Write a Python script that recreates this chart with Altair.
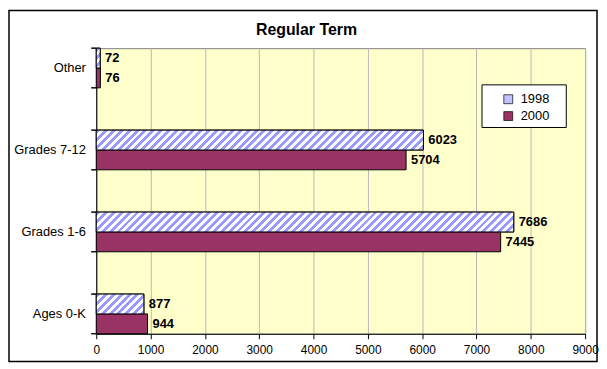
import altair as alt
import pandas as pd

categories = ["Other", "Grades 7-12", "Grades 1-6", "Ages 0-K"]
values_1998 = [72, 6023, 7686, 877]
values_2000 = [76, 5704, 7445, 944]
years = ["1998", "2000"]
x_ticks = [0, 1000, 2000, 3000, 4000, 5000, 6000, 7000, 8000, 9000]
title_text = "Regular Term"

PLOT_W, PLOT_H = 493, 288
X_MAX = 9000
BAR_H = 20
STRIPE_PERIOD = 8.0
STRIPE_BLUE = "#9999FF"
COL_2000 = "#993366"
FONT = "Liberation Sans"

rows = []
for c, a, b in zip(categories, values_1998, values_2000):
    rows.append({"cat": c, "year": years[0], "value": a})
    rows.append({"cat": c, "year": years[1], "value": b})
df = pd.DataFrame(rows)


def stripe_gradient(value):
    """Diagonal '/' stripes built as a hard-stop linear gradient for one bar."""
    w = max(value * PLOT_W / X_MAX, 0.5)
    h = BAR_H
    r = h / w
    k = (w + h) / (w * (1 + r * r))
    total = w + h
    stops = []
    pos = 0.0
    i = 0
    while pos < total:
        col = STRIPE_BLUE if i % 2 == 0 else "#FFFFFF"
        nxt = min(pos + STRIPE_PERIOD / 2, total)
        stops.append({"offset": pos / total, "color": col})
        stops.append({"offset": nxt / total, "color": col})
        pos = nxt
        i += 1
    return {"gradient": "linear", "x1": 0, "y1": 0, "x2": k, "y2": k * r, "stops": stops}


y_enc = alt.Y("cat:N", sort=categories,
              scale=alt.Scale(paddingInner=0.516, paddingOuter=0),
              axis=alt.Axis(title=None, ticks=False, labelFont=FONT, labelFontSize=13,
                            labelColor="black", labelPadding=11, domainColor="black",
                            grid=False))
x_enc = alt.X("value:Q",
              scale=alt.Scale(domain=[0, X_MAX], nice=False),
              axis=alt.Axis(title=None, values=x_ticks, format="d", labelFont=FONT,
                            labelFontSize=12, labelColor="black", tickSize=5,
                            tickColor="black", domainColor="black", labelPadding=6,
                            grid=True, gridColor="#B8B8B8", labelFlush=False))
yoff = alt.YOffset("year:N", sort=years, scale=alt.Scale(paddingInner=0, paddingOuter=0))

base = alt.Chart(df)

bars = base.mark_bar(stroke="black", strokeWidth=1, cornerRadius=0).encode(
    x=x_enc, y=y_enc, yOffset=yoff,
    fill=alt.Fill("year:N", sort=years,
                  scale=alt.Scale(domain=years, range=["#C2C2FF", COL_2000]),
                  legend=alt.Legend(title=None, orient="none", legendX=409, legendY=45,
                                    padding=0, symbolType="square", symbolSize=81,
                                    symbolStrokeColor="black", symbolStrokeWidth=0.7,
                                    labelFont=FONT, labelFontSize=13, labelColor="black",
                                    labelOffset=6, rowPadding=3)),
)

conds = [{"test": f"datum.cat === '{c}'", "value": stripe_gradient(v)}
         for c, v in zip(categories, values_1998)]
stripes = base.transform_filter(f"datum.year === '{years[0]}'").mark_bar(
    stroke="black", strokeWidth=1).encode(
    x="value:Q", y=alt.Y("cat:N", sort=categories), yOffset=yoff,
    fill=alt.value("#C2C2FF", condition=conds),
)

labels = base.mark_text(align="left", baseline="middle", dx=5, font=FONT,
                        fontSize=13, fontWeight="bold", color="black").encode(
    x="value:Q", y=alt.Y("cat:N", sort=categories), yOffset=yoff, text="value:Q")

ticks_top = base.mark_rule(color="black").encode(
    y=alt.Y("cat:N", sort=categories, bandPosition=0), x=alt.value(-5), x2=alt.value(0))
ticks_bot = base.mark_rule(color="black").encode(
    y=alt.Y("cat:N", sort=categories, bandPosition=1), x=alt.value(-5), x2=alt.value(0))

one = pd.DataFrame({"t": [title_text]})
frame = alt.Chart(one).mark_rect(
    fill=None, stroke="black", strokeWidth=1.5).encode(
    x=alt.value(-88), x2=alt.value(PLOT_W + 12), y=alt.value(-38), y2=alt.value(PLOT_H + 28))

legend_box = alt.Chart(one).mark_rect(
    fill="white", stroke="black", strokeWidth=1).encode(
    x=alt.value(389), x2=alt.value(474), y=alt.value(37), y2=alt.value(80))

title = alt.Chart(one).mark_text(
    font=FONT, fontSize=16, fontWeight="bold", color="black",
    align="center", baseline="middle").encode(
    text="t:N", x=alt.value(212), y=alt.value(-18))

chart = alt.layer(frame, bars, stripes, labels, ticks_top, ticks_bot, legend_box, title
).properties(
    width=PLOT_W, height=PLOT_H,
    autosize=alt.AutoSizeParams(type="none"),
    padding={"left": 89, "top": 39, "right": 14, "bottom": 29},
    background="white",
).configure_view(fill="#FFFFCC", stroke="#808080", strokeWidth=1)

chart.save("out.html", embed_options={"renderer": "svg", "actions": False})
